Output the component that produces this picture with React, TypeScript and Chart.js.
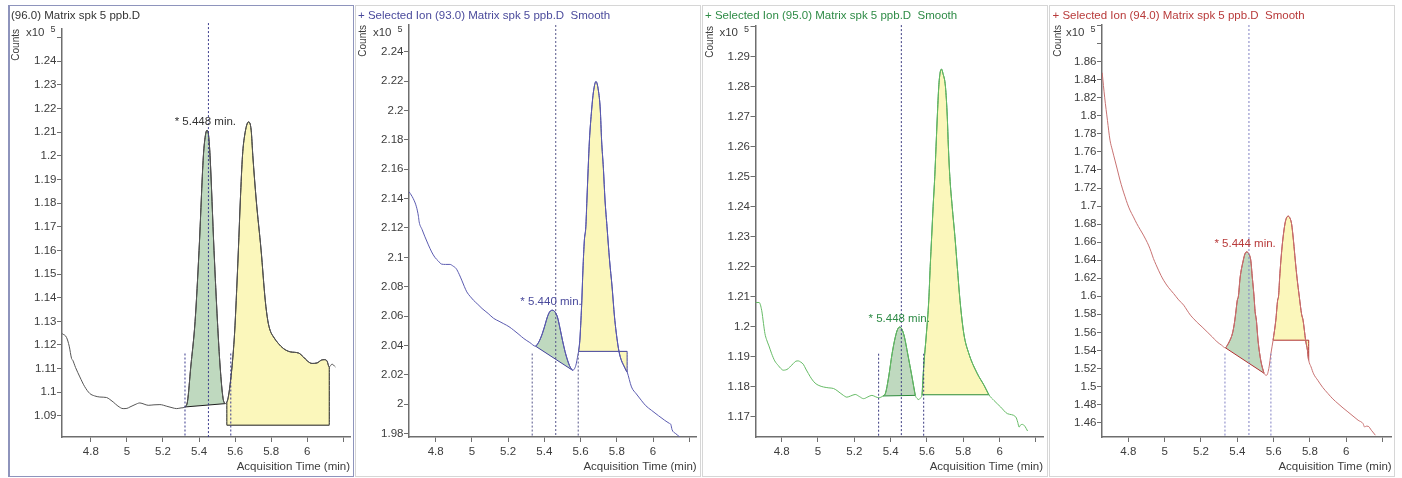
import React, { useEffect, useRef } from 'react';
import { Chart, registerables } from 'chart.js';

Chart.register(...registerables);

const FONT = '"Liberation Sans", Arial, sans-serif';
Chart.defaults.font.family = FONT;

// ---------------- Panel 1 : (96.0) ----------------
const p1Title = '(96.0) Matrix spk 5 ppb.D';
const p1Time = [4.641, 4.665, 4.680, 4.693, 4.700, 4.715, 4.739, 4.765, 4.794, 4.820, 4.850, 4.887, 4.905, 4.924, 4.950, 4.979, 5.000, 5.017, 5.045, 5.072, 5.095, 5.118, 5.150, 5.183, 5.221, 5.250, 5.276, 5.300, 5.322, 5.336, 5.354, 5.378, 5.400, 5.424, 5.435, 5.444, 5.453, 5.461, 5.483, 5.502, 5.517, 5.533, 5.544, 5.554, 5.564, 5.575, 5.586, 5.597, 5.606, 5.618, 5.629, 5.641, 5.653, 5.674, 5.689, 5.698, 5.717, 5.744, 5.767, 5.781, 5.794, 5.813, 5.839, 5.868, 5.906, 5.952, 5.979, 6.000, 6.026, 6.054, 6.078, 6.094, 6.109, 6.122, 6.137, 6.156];
const p1Counts = [1.1248, 1.1232, 1.1195, 1.1143, 1.1135, 1.1105, 1.1065, 1.1025, 1.0995, 1.0985, 1.0980, 1.0978, 1.0970, 1.0959, 1.0942, 1.0931, 1.0932, 1.0938, 1.0948, 1.0955, 1.0950, 1.0945, 1.0947, 1.0948, 1.0941, 1.0935, 1.0931, 1.0934, 1.0938, 1.0962, 1.1107, 1.1300, 1.1600, 1.2000, 1.2085, 1.2108, 1.2085, 1.2000, 1.1600, 1.1300, 1.1107, 1.0975, 1.0952, 1.0959, 1.0988, 1.1051, 1.1136, 1.1250, 1.1389, 1.1601, 1.1813, 1.2002, 1.2087, 1.2143, 1.2108, 1.2002, 1.1813, 1.1601, 1.1389, 1.1304, 1.1262, 1.1234, 1.1207, 1.1185, 1.1171, 1.1166, 1.1149, 1.1133, 1.1122, 1.1124, 1.1136, 1.1138, 1.1133, 1.1107, 1.1119, 1.1107];
const p1GreenRange = [5.322, 5.544];
const p1GreenBase = [1.0938, 1.0952];
const p1YellowRange = [5.554, 6.122];
const p1YellowBase = [1.0861, 1.0861];
const p1Marks = [5.322, 5.452, 5.576];
const p1MarkTops = [1.1164, 1.2561, 1.1164];
const p1PeakLabel = '* 5.448 min.';
const p1PeakAt = [5.435, 1.2108];
const p1XRange = [4.64, 6.237];
const p1YRange = [1.0811, 1.2536];
const p1YStep = 0.01;
const p1YLabelMax = 1.245;

// ---------------- Panel 2 : (93.0) ----------------
const p2Title = '+ Selected Ion (93.0) Matrix spk 5 ppb.D  Smooth';
const p2Time = [4.654, 4.676, 4.694, 4.705, 4.709, 4.725, 4.741, 4.760, 4.778, 4.796, 4.814, 4.833, 4.855, 4.879, 4.897, 4.913, 4.930, 4.944, 4.958, 4.972, 4.990, 5.009, 5.033, 5.056, 5.090, 5.120, 5.150, 5.176, 5.205, 5.231, 5.260, 5.287, 5.320, 5.352, 5.370, 5.389, 5.405, 5.417, 5.430, 5.444, 5.458, 5.472, 5.486, 5.500, 5.514, 5.528, 5.542, 5.556, 5.568, 5.576, 5.583, 5.589, 5.596, 5.602, 5.607, 5.613, 5.621, 5.629, 5.635, 5.642, 5.649, 5.661, 5.671, 5.685, 5.698, 5.709, 5.716, 5.726, 5.735, 5.746, 5.760, 5.774, 5.787, 5.806, 5.818, 5.842, 5.857, 5.881, 5.908, 5.935, 5.960, 5.991, 6.030, 6.064, 6.090, 6.098, 6.105, 6.125, 6.148];
const p2Counts = [2.1446, 2.1401, 2.1344, 2.1280, 2.1242, 2.1190, 2.1140, 2.1085, 2.1037, 2.1000, 2.0976, 2.0954, 2.0952, 2.0952, 2.0940, 2.0924, 2.0885, 2.0845, 2.0803, 2.0765, 2.0735, 2.0708, 2.0680, 2.0652, 2.0618, 2.0585, 2.0565, 2.0548, 2.0528, 2.0504, 2.0475, 2.0447, 2.0420, 2.0395, 2.0425, 2.0481, 2.0545, 2.0595, 2.0630, 2.0640, 2.0630, 2.0595, 2.0520, 2.0436, 2.0360, 2.0300, 2.0255, 2.0231, 2.0245, 2.0275, 2.0320, 2.0360, 2.0436, 2.0572, 2.0708, 2.0913, 2.1117, 2.1208, 2.1390, 2.1606, 2.1799, 2.2003, 2.2126, 2.2197, 2.2139, 2.2003, 2.1799, 2.1606, 2.1390, 2.1208, 2.0981, 2.0799, 2.0599, 2.0404, 2.0327, 2.0254, 2.0220, 2.0118, 2.0070, 2.0027, 1.9990, 1.9959, 1.9922, 1.9891, 1.9870, 1.9863, 1.9827, 1.9800, 1.9777];
const p2GreenRange = [5.352, 5.556];
const p2GreenBase = [2.0395, 2.0231];
const p2YellowRange = [5.589, 5.857];
const p2YellowBase = [2.0360, 2.0360];
const p2Marks = [5.333, 5.463, 5.587];
const p2MarkTops = [2.0345, 2.2582, 2.0345];
const p2PeakLabel = '* 5.440 min.';
const p2PeakAt = [5.437, 2.0640];
const p2XRange = [4.653, 6.241];
const p2YRange = [1.9777, 2.2582];
const p2YStep = 0.02;
const p2YLabelMax = 3;

// ---------------- Panel 3 : (95.0) ----------------
const p3Title = '+ Selected Ion (95.0) Matrix spk 5 ppb.D  Smooth';
const p3Time = [4.656, 4.676, 4.690, 4.700, 4.708, 4.717, 4.730, 4.745, 4.762, 4.781, 4.795, 4.809, 4.822, 4.836, 4.850, 4.864, 4.878, 4.892, 4.905, 4.919, 4.933, 4.947, 4.965, 4.984, 5.005, 5.030, 5.060, 5.085, 5.105, 5.122, 5.140, 5.159, 5.180, 5.205, 5.228, 5.251, 5.275, 5.297, 5.318, 5.334, 5.358, 5.371, 5.389, 5.408, 5.426, 5.438, 5.450, 5.463, 5.476, 5.494, 5.518, 5.536, 5.545, 5.555, 5.565, 5.573, 5.582, 5.597, 5.610, 5.618, 5.626, 5.634, 5.643, 5.650, 5.657, 5.665, 5.672, 5.680, 5.688, 5.702, 5.712, 5.718, 5.726, 5.739, 5.754, 5.767, 5.782, 5.803, 5.831, 5.877, 5.914, 5.941, 5.969, 6.006, 6.043, 6.089, 6.100, 6.107, 6.117, 6.126, 6.139, 6.154];
const p3Counts = [1.2080, 1.2080, 1.2054, 1.2010, 1.1976, 1.1956, 1.1935, 1.1909, 1.1885, 1.1870, 1.1860, 1.1854, 1.1855, 1.1859, 1.1868, 1.1876, 1.1884, 1.1885, 1.1881, 1.1874, 1.1858, 1.1843, 1.1825, 1.1811, 1.1803, 1.1798, 1.1795, 1.1793, 1.1786, 1.1778, 1.1770, 1.1764, 1.1768, 1.1773, 1.1766, 1.1759, 1.1765, 1.1770, 1.1765, 1.1762, 1.1768, 1.1776, 1.1831, 1.1909, 1.1965, 1.1990, 1.1998, 1.1990, 1.1965, 1.1909, 1.1831, 1.1770, 1.1760, 1.1756, 1.1762, 1.1772, 1.1865, 1.1976, 1.2087, 1.2200, 1.2300, 1.2400, 1.2500, 1.2600, 1.2700, 1.2800, 1.2845, 1.2859, 1.2845, 1.2800, 1.2700, 1.2600, 1.2500, 1.2400, 1.2300, 1.2200, 1.2087, 1.1976, 1.1909, 1.1843, 1.1804, 1.1772, 1.1753, 1.1731, 1.1709, 1.1698, 1.1680, 1.1664, 1.1672, 1.1673, 1.1667, 1.1651];
const p3GreenRange = [5.358, 5.536];
const p3GreenBase = [1.1768, 1.1770];
const p3YellowRange = [5.573, 5.941];
const p3YellowBase = [1.1772, 1.1772];
const p3Marks = [5.334, 5.459, 5.582];
const p3MarkTops = [1.1909, 1.3006, 1.1909];
const p3PeakLabel = '* 5.448 min.';
const p3PeakAt = [5.447, 1.1998];
const p3XRange = [4.656, 6.239];
const p3YRange = [1.1631, 1.3003];
const p3YStep = 0.01;
const p3YLabelMax = 1.295;

// ---------------- Panel 4 : (94.0) ----------------
const p4Title = '+ Selected Ion (94.0) Matrix spk 5 ppb.D  Smooth';
const p4Time = [4.656, 4.670, 4.685, 4.699, 4.712, 4.726, 4.740, 4.754, 4.768, 4.782, 4.795, 4.809, 4.828, 4.846, 4.865, 4.883, 4.897, 4.911, 4.925, 4.938, 4.952, 4.966, 4.980, 4.994, 5.020, 5.049, 5.077, 5.105, 5.123, 5.142, 5.160, 5.179, 5.206, 5.234, 5.262, 5.289, 5.312, 5.335, 5.345, 5.359, 5.373, 5.383, 5.391, 5.400, 5.406, 5.415, 5.433, 5.442, 5.452, 5.463, 5.474, 5.483, 5.492, 5.498, 5.505, 5.514, 5.529, 5.547, 5.562, 5.575, 5.585, 5.597, 5.612, 5.622, 5.627, 5.633, 5.640, 5.649, 5.662, 5.670, 5.680, 5.690, 5.699, 5.710, 5.719, 5.729, 5.741, 5.754, 5.762, 5.776, 5.786, 5.793, 5.806, 5.820, 5.843, 5.870, 5.899, 5.926, 5.954, 5.982, 6.009, 6.037, 6.065, 6.092, 6.101, 6.110, 6.120, 6.138, 6.160];
const p4Counts = [1.8478, 1.8200, 1.7950, 1.7731, 1.7620, 1.7510, 1.7400, 1.7288, 1.7190, 1.7103, 1.7025, 1.6955, 1.6880, 1.6807, 1.6740, 1.6678, 1.6625, 1.6567, 1.6495, 1.6419, 1.6352, 1.6289, 1.6230, 1.6178, 1.6100, 1.6031, 1.5960, 1.5901, 1.5846, 1.5790, 1.5750, 1.5710, 1.5660, 1.5605, 1.5550, 1.5494, 1.5460, 1.5428, 1.5457, 1.5510, 1.5587, 1.5690, 1.5809, 1.5957, 1.6000, 1.6200, 1.6400, 1.6470, 1.6492, 1.6470, 1.6400, 1.6200, 1.6000, 1.5830, 1.5735, 1.5513, 1.5291, 1.5147, 1.5125, 1.5217, 1.5365, 1.5513, 1.5735, 1.5957, 1.6000, 1.6200, 1.6400, 1.6600, 1.6800, 1.6865, 1.6888, 1.6865, 1.6800, 1.6600, 1.6400, 1.6200, 1.6000, 1.5800, 1.5735, 1.5513, 1.5402, 1.5291, 1.5217, 1.5140, 1.5069, 1.4990, 1.4922, 1.4862, 1.4811, 1.4762, 1.4718, 1.4672, 1.4626, 1.4589, 1.4551, 1.4560, 1.4559, 1.4515, 1.4460];
const p4GreenRange = [5.335, 5.547];
const p4GreenBase = [1.5428, 1.5147];
const p4YellowRange = [5.597, 5.793];
const p4YellowBase = [1.5513, 1.5513];
const p4Marks = [5.332, 5.464, 5.585];
const p4MarkTops = [1.5365, 1.9007, 1.5365];
const p4PeakLabel = '* 5.444 min.';
const p4PeakAt = [5.443, 1.6492];
const p4XRange = [4.655, 6.25];
const p4YRange = [1.444, 1.9007];
const p4YStep = 0.02;
const p4YLabelMax = 1.87;

// shared axis
const xStep = 0.2;
const xLabelMax = 6.1;
const xTitle = 'Acquisition Time (min)';
const yTitle = 'Counts';

// ---------------- styling / layout ----------------
const GREEN_FILL = '#bfd9bf';
const YELLOW_FILL = '#fbf7bb';
const TICK_COLOR = '#3c3c3c';
const AXIS_COLOR = '#6e6e6e';

const panels = [
  { title: p1Title, time: p1Time, counts: p1Counts, gR: p1GreenRange, gB: p1GreenBase, yR: p1YellowRange, yB: p1YellowBase, marks: p1Marks, markTops: p1MarkTops, label: p1PeakLabel, labelAt: p1PeakAt, xr: p1XRange, yr: p1YRange, ystep: p1YStep, ylmax: p1YLabelMax },
  { title: p2Title, time: p2Time, counts: p2Counts, gR: p2GreenRange, gB: p2GreenBase, yR: p2YellowRange, yB: p2YellowBase, marks: p2Marks, markTops: p2MarkTops, label: p2PeakLabel, labelAt: p2PeakAt, xr: p2XRange, yr: p2YRange, ystep: p2YStep, ylmax: p2YLabelMax },
  { title: p3Title, time: p3Time, counts: p3Counts, gR: p3GreenRange, gB: p3GreenBase, yR: p3YellowRange, yB: p3YellowBase, marks: p3Marks, markTops: p3MarkTops, label: p3PeakLabel, labelAt: p3PeakAt, xr: p3XRange, yr: p3YRange, ystep: p3YStep, ylmax: p3YLabelMax },
  { title: p4Title, time: p4Time, counts: p4Counts, gR: p4GreenRange, gB: p4GreenBase, yR: p4YellowRange, yB: p4YellowBase, marks: p4Marks, markTops: p4MarkTops, label: p4PeakLabel, labelAt: p4PeakAt, xr: p4XRange, yr: p4YRange, ystep: p4YStep, ylmax: p4YLabelMax },
];

const looks = [
  { left: 8, width: 346, padLeft: 3, yw: 51, padRight: 4, titleBottom: 6.1, frame: '#8e94bc', frameLeft: 2, titleColor: '#333333', line: '#555555', outline: '#1e1e1e', mark: '#3a3a8c' },
  { left: 355, width: 346, padLeft: 3, yw: 51, padRight: 4.3, titleBottom: 2.1, frame: '#d6d6d6', frameLeft: 1, titleColor: '#4a4a9c', line: '#5b5bb0', outline: '#40409a', mark: '#55558a' },
  { left: 702, width: 346, padLeft: 3, yw: 50.5, padRight: 5, titleBottom: 3.1, frame: '#d6d6d6', frameLeft: 1, titleColor: '#2e8b46', line: '#66bb66', outline: '#2b8a3a', mark: '#3a3a80' },
  { left: 1049, width: 346, padLeft: 3.5, yw: 49.5, padRight: 3.3, titleBottom: 2.1, frame: '#d6d6d6', frameLeft: 1, titleColor: '#b83a3a', line: '#c87272', outline: '#b03030', mark: '#8080c4' },
];

const PANEL_H = 472;
const XAXIS_H = 40;

function toPoints(xs: number[], ys: number[]) {
  return xs.map((x, i) => ({ x, y: ys[i] }));
}

function region(xs: number[], ys: number[], range: number[], base: number[]) {
  const inner = toPoints(xs, ys).filter((p) => p.x >= range[0] - 1e-9 && p.x <= range[1] + 1e-9);
  const first = inner[0];
  const last = inner[inner.length - 1];
  const poly: { x: number; y: number }[] = [];
  if (Math.abs(first.y - base[0]) > 1e-4) poly.push({ x: range[0], y: base[0] });
  poly.push(...inner);
  if (Math.abs(last.y - base[1]) > 1e-4) poly.push({ x: range[1], y: base[1] });
  const edge = [{ x: range[1], y: base[1] }, { x: range[0], y: base[0] }];
  return { poly, edge };
}

function fmt(v: number) {
  return String(Number(v.toFixed(2)));
}

function buildConfig(p: any, lk: any) {
  const green = region(p.time, p.counts, p.gR, p.gB);
  const yellow = region(p.time, p.counts, p.yR, p.yB);
  const datasets: any[] = [];

  p.marks.forEach((m: number, i: number) => {
    datasets.push({
      data: [{ x: m, y: p.markTops[i] }, { x: m, y: p.yr[0] }],
      borderColor: lk.mark,
      borderWidth: 1,
      borderDash: [2, 2],
      pointRadius: 0,
      fill: false,
      clip: false,
      order: 0,
    });
  });
  datasets.push({
    data: toPoints(p.time, p.counts),
    borderColor: lk.line,
    borderWidth: 1,
    pointRadius: 0,
    fill: false,
    cubicInterpolationMode: 'monotone',
    order: 1,
  });
  [green, yellow].forEach((r, k) => {
    datasets.push({
      data: r.poly,
      borderColor: lk.outline,
      borderWidth: 1,
      backgroundColor: k === 0 ? GREEN_FILL : YELLOW_FILL,
      pointRadius: 0,
      fill: 'shape',
      cubicInterpolationMode: 'monotone',
      order: 2,
    });
    datasets.push({
      data: r.edge,
      borderColor: lk.outline,
      borderWidth: 1,
      pointRadius: 0,
      fill: false,
      order: 1,
    });
  });

  const annot = {
    id: 'annot',
    afterDatasetsDraw(chart: any) {
      const { ctx, chartArea, scales } = chart;
      ctx.save();
      ctx.fillStyle = TICK_COLOR;
      ctx.font = `11.5px ${FONT}`;
      ctx.textAlign = 'right';
      ctx.textBaseline = 'middle';
      ctx.fillText('x10', chartArea.left - 17.5, 28.3);
      ctx.font = `9px ${FONT}`;
      ctx.textAlign = 'center';
      ctx.fillText('5', chartArea.left - 8.9, 25);
      ctx.font = `11.5px ${FONT}`;
      ctx.fillStyle = lk.titleColor;
      const lx = scales.x.getPixelForValue(p.labelAt[0]);
      const ly = scales.y.getPixelForValue(p.labelAt[1]);
      ctx.fillText(p.label, lx, ly - 8);
      ctx.restore();
    },
  };

  return {
    type: 'line',
    data: { datasets },
    plugins: [annot],
    options: {
      responsive: false,
      animation: false,
      events: [],
      layout: { padding: { left: lk.padLeft, right: lk.padRight, top: 0, bottom: 0 } },
      elements: { point: { radius: 0 } },
      plugins: {
        legend: { display: false },
        tooltip: { enabled: false },
        title: {
          display: true,
          text: p.title,
          align: 'start',
          color: lk.titleColor,
          font: { size: 11.5, family: FONT, weight: 'normal' },
          padding: { top: 4.1, bottom: lk.titleBottom },
        },
      },
      scales: {
        x: {
          type: 'linear',
          min: p.xr[0],
          max: p.xr[1],
          afterFit: (s: any) => { s.height = XAXIS_H; },
          border: { display: true, color: AXIS_COLOR, width: 1.5 },
          grid: { drawOnChartArea: false, drawTicks: true, tickLength: 5, tickColor: AXIS_COLOR },
          ticks: {
            stepSize: xStep,
            includeBounds: false,
            autoSkip: false,
            maxRotation: 0,
            padding: 3,
            color: TICK_COLOR,
            font: { size: 11.5, family: FONT },
            callback: (v: number) => (v > xLabelMax ? '' : fmt(v)),
          },
          title: {
            display: true,
            text: xTitle,
            align: 'end',
            color: TICK_COLOR,
            font: { size: 11.5, family: FONT },
            padding: { top: 0, bottom: 3.1 },
          },
        },
        y: {
          type: 'linear',
          min: p.yr[0],
          max: p.yr[1],
          afterFit: (s: any) => { s.width = lk.yw; },
          border: { display: true, color: AXIS_COLOR, width: 1.5 },
          grid: { drawOnChartArea: false, drawTicks: true, tickLength: 5, tickColor: AXIS_COLOR },
          ticks: {
            stepSize: p.ystep,
            includeBounds: false,
            autoSkip: false,
            padding: 0.5,
            color: TICK_COLOR,
            font: { size: 11.5, family: FONT },
            callback: (v: number) => (v > p.ylmax ? '' : fmt(v)),
          },
          title: {
            display: true,
            text: yTitle,
            align: 'end',
            color: TICK_COLOR,
            font: { size: 10, family: FONT, lineHeight: 1 },
            padding: { top: 0.3, bottom: 0 },
          },
        },
      },
    },
  };
}

function Panel({ p, lk }: { p: any; lk: any }) {
  const ref = useRef<HTMLCanvasElement>(null);
  useEffect(() => {
    const chart = new Chart(ref.current as HTMLCanvasElement, buildConfig(p, lk) as any);
    return () => chart.destroy();
  }, []);
  return (
    <div style={{ position: 'absolute', left: lk.left, top: 5, width: lk.width, height: PANEL_H }}>
      <div
        style={{
          position: 'absolute',
          left: 0,
          top: 0,
          width: lk.width,
          height: PANEL_H,
          boxSizing: 'border-box',
          border: `1px solid ${lk.frame}`,
          borderLeft: `${lk.frameLeft}px solid ${lk.frame}`,
        }}
      />
      <canvas
        ref={ref}
        width={lk.width}
        height={PANEL_H}
        style={{ position: 'absolute', left: 0, top: 0, width: lk.width, height: PANEL_H }}
      />
    </div>
  );
}

export default function App() {
  return (
    <div style={{ position: 'absolute', left: 0, top: 0, width: 1402, height: 478, background: '#ffffff' }}>
      {panels.map((p, i) => (
        <Panel key={i} p={p} lk={looks[i]} />
      ))}
    </div>
  );
}
